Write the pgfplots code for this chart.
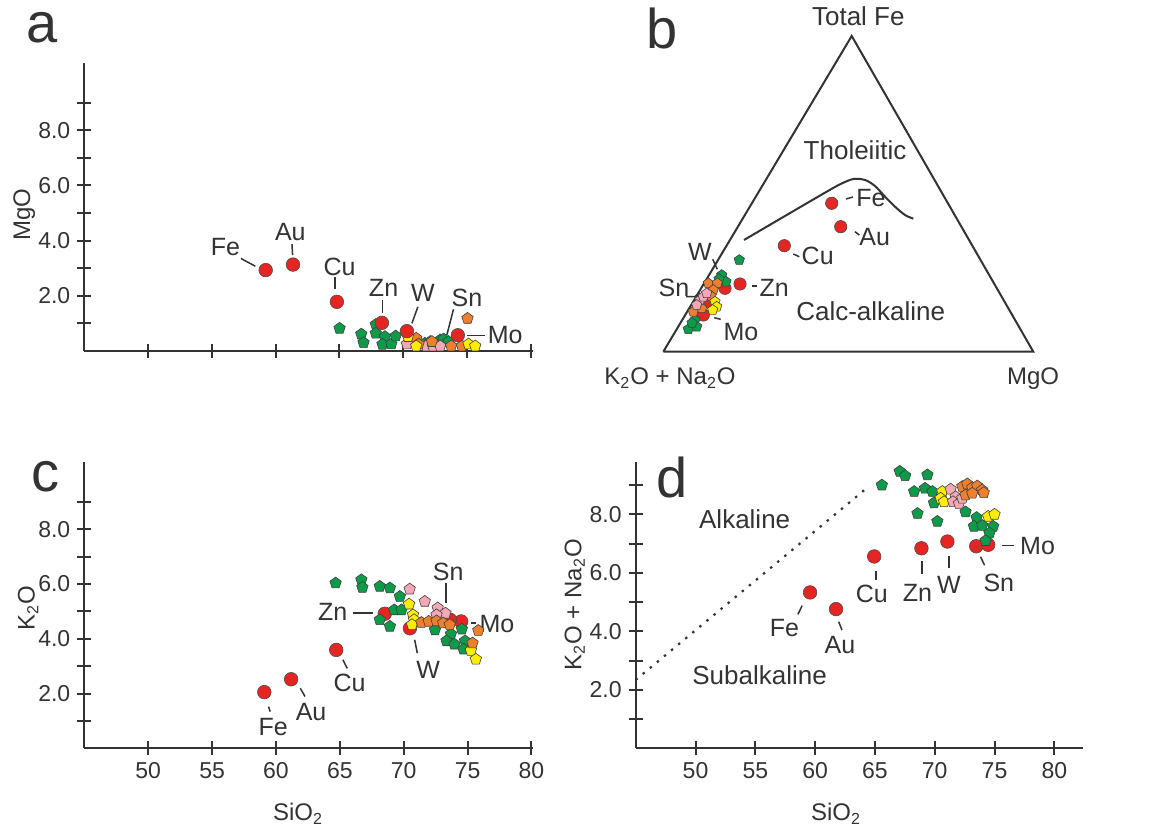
\documentclass[border=0pt]{standalone}
\usepackage{fontspec}
\setmainfont{Liberation Sans}
\usepackage{pgfplots}
\pgfplotsset{compat=1.18}
\usetikzlibrary{plotmarks}

\definecolor{txt}{HTML}{333333}
\definecolor{redc}{HTML}{E52521}
\definecolor{grn}{HTML}{0D9B4A}
\definecolor{org}{HTML}{EE7F2D}
\definecolor{pnk}{HTML}{F2A9B5}
\definecolor{ylw}{HTML}{FFED00}

\tikzset{
  lbl/.style={font=\fontsize{12.5}{14}\selectfont, text=txt},
  reg/.style={font=\fontsize{13}{15}\selectfont, text=txt},
  ttl/.style={font=\fontsize{12}{14}\selectfont, text=txt},
  big/.style={font=\fontsize{28}{30}\selectfont, text=txt},
}
\pgfplotsset{
  geo/.style={
    scale only axis, anchor=south west, clip=false,
    axis x line=bottom, axis y line=left,
    axis line style={-, line width=1pt, color=txt},
    tick align=center, major tick length=7pt,
    tick style={line width=1pt, color=txt},
    xmin=45, ymin=0,
    xtick={50,55,...,80}, xticklabels={50,55,60,65,70,75,80},
    ytick={1,...,9}, yticklabels={,2.0,,4.0,,6.0,,8.0,},
    tick label style={font=\fontsize{11.5}{13}\selectfont, text=txt},
  },
  rdot/.style={only marks, mark=*, mark size=3.4pt, mark options={fill=redc, draw=black!70, line width=0.3pt}},
  gpt/.style={only marks, mark=pentagon*, mark size=3pt, mark options={fill=#1, draw=black!75, line width=0.3pt}},
  lead/.style={txt, line width=0.75pt, forget plot},
}

\begin{document}
\begin{tikzpicture}
\useasboundingbox (0,0) rectangle (578pt,415.5pt);

% ---------- a: MgO vs SiO2
\begin{axis}[geo, at={(42.15pt,240pt)}, width=224.2pt, height=143.85pt,
  xmax=80.15, ymax=10.42, xticklabels={}]
\addplot[gpt=grn] coordinates {(65.01,0.82) (66.71,0.61) (66.89,0.30) (67.85,0.96) (67.85,0.64) (68.56,0.52) (68.37,0.24) (69.07,0.25) (69.41,0.54) (71.7,0.28) (72.12,0.34) (72.9,0.40) (73.16,0.43) (73.55,0.34)};
\addplot[gpt=pnk] coordinates {(70.29,0.25) (71.8,0.18) (72.32,0.18) (72.9,0.18)};
\addplot[gpt=org] coordinates {(75.04,1.18) (71.02,0.46) (71.2,0.25) (73.76,0.18) (74.6,0.18) (72.25,0.34)};
\addplot[gpt=ylw] coordinates {(70.37,0.52) (71.02,0.18) (75.12,0.25) (75.64,0.18)};
\addplot[rdot] coordinates {(59.22,2.93) (61.36,3.13) (64.80,1.78) (68.33,1.02) (70.29,0.72) (74.28,0.57)};
\addplot[lead] coordinates {(57.28,3.35) (58.41,3.07)};
\addplot[lead] coordinates {(61.28,3.87) (61.33,3.47)};
\addplot[lead] coordinates {(64.67,2.69) (64.67,2.23)};
\addplot[lead] coordinates {(68.38,1.84) (68.38,1.39)};
\addplot[lead] coordinates {(71.15,1.60) (70.68,1.00)};
\addplot[lead] coordinates {(73.94,1.51) (73.42,0.58)};
\addplot[lead] coordinates {(74.99,0.57) (76.42,0.57)};
\node[lbl] at (axis cs:56.06,3.77) {Fe};
\node[lbl] at (axis cs:61.15,4.31) {Au};
\node[lbl] at (axis cs:65.01,3.05) {Cu};
\node[lbl] at (axis cs:68.46,2.27) {Zn};
\node[lbl] at (axis cs:71.54,2.12) {W};
\node[lbl] at (axis cs:74.99,1.94) {Sn};
\node[lbl] at (axis cs:77.99,0.58) {Mo};
\node[ttl, rotate=90] at (axis cs:40.3,4.93) {MgO};
\node[big] at (axis cs:41.69,11.7) {a};
\end{axis}

% ---------- b: AFM ternary (drawn in page units)
\begin{axis}[scale only axis, anchor=south west, at={(300pt,215.5pt)},
  width=250pt, height=200pt, xmin=600, xmax=1100, ymin=431, ymax=831,
  axis lines=none, clip=false]
\addplot[txt, line width=1pt] coordinates {(663.3,479.3) (851.7,795) (1033.3,479.3) (663.3,479.3)};
\addplot[txt, line width=1pt, smooth] coordinates {(744,591) (766.7,604.3) (786.7,616) (806.7,627.7) (826.7,639.3) (840,646.7) (853.3,652) (865,651) (875,645) (885,634.3) (895,624.3) (905,616) (913.3,612.3)};
\addplot[rdot, mark size=3.1pt] coordinates {(831.7,627.7) (840.7,604.3) (784.3,585.3) (740,547) (725,542.7) (710,529.3) (703.3,516)};
\addplot[gpt=grn, mark size=2.7pt] coordinates {(739.3,571) (721.7,556) (726,549.3) (719,552) (695,511) (688.3,501.7) (696.7,504.3) (692,508)};
\addplot[gpt=org, mark size=2.7pt] coordinates {(708.3,547.7) (717.3,547.7) (713.3,541) (693.3,519.3) (701.7,522.7) (711,535)};
\addplot[gpt=pnk, mark size=2.7pt] coordinates {(700,531) (703.3,534.3) (696.7,526) (706.7,537.7)};
\addplot[gpt=ylw, mark size=2.7pt] coordinates {(715,529.3) (716.7,524.3) (712.7,521)};
\addplot[lead] coordinates {(846,632) (853,634)};
\addplot[lead] coordinates {(855,599.3) (859.3,596)};
\addplot[lead] coordinates {(793.3,577) (799.3,574.3)};
\addplot[lead] coordinates {(751.7,545) (757.3,545)};
\addplot[lead] coordinates {(714.3,513.3) (720.7,511.7)};
\addplot[lead] coordinates {(712.7,571.7) (717.3,561.7)};
\addplot[lead] coordinates {(686,534.3) (695,534.3) (699.3,538.3)};
\node[lbl] at (axis cs:871,633) {Fe};
\node[lbl] at (axis cs:874.7,593.7) {Au};
\node[lbl] at (axis cs:817.7,575) {Cu};
\node[lbl] at (axis cs:774.3,542.7) {Zn};
\node[lbl] at (axis cs:741,499.3) {Mo};
\node[lbl] at (axis cs:700,578.7) {W};
\node[lbl] at (axis cs:674,542.7) {Sn};
\node[reg] at (axis cs:858.3,814.3) {Total Fe};
\node[reg] at (axis cs:855,681) {Tholeiitic};
\node[reg] at (axis cs:870.7,519.3) {Calc-alkaline};
\node[ttl] at (axis cs:670,452.7) {K\textsubscript{2}O + Na\textsubscript{2}O};
\node[ttl] at (axis cs:1033,452.7) {MgO};
\node[big] at (axis cs:662,803) {b};
\end{axis}

% ---------- c: K2O vs SiO2
\begin{axis}[geo, at={(42.15pt,41.35pt)}, width=224.2pt, height=143.3pt,
  xmax=80.1, ymax=10.46]
\addplot[rdot] coordinates {(59.09,2.05) (61.19,2.52) (64.72,3.59) (68.52,4.91) (70.49,4.38) (74.5,4.63) (73.63,4.69)};
\addplot[gpt=grn] coordinates {(64.67,6.03) (66.69,6.15) (66.77,5.87) (68.13,5.91) (68.92,5.85) (69.7,5.54) (69.26,5.05) (69.83,5.05) (68.13,4.69) (68.92,4.45) (72.45,4.32) (73.7,4.17) (73.35,3.92) (73.97,3.8) (74.55,4.35) (74.8,3.92) (74.68,3.62)};
\addplot[gpt=pnk] coordinates {(70.47,5.81) (71.65,5.36) (72.66,5.12) (73.27,4.93) (72.57,4.87)};
\addplot[gpt=ylw] coordinates {(70.42,5.26) (70.73,4.87) (70.81,4.69) (70.65,4.51) (75.26,3.57) (75.65,3.25)};
\addplot[gpt=org] coordinates {(71.39,4.59) (71.96,4.63) (72.57,4.65) (73.09,4.57) (73.61,4.51) (75.84,4.3) (75.39,3.84)};
\addplot[lead] coordinates {(66.02,4.93) (67.59,4.93)};
\addplot[lead] coordinates {(73.3,6.03) (73.3,5.30)};
\addplot[lead] coordinates {(75.26,4.57) (75.7,4.57)};
\addplot[lead] coordinates {(70.86,3.96) (71.07,3.47)};
\addplot[lead] coordinates {(65.24,3.23) (65.58,2.92)};
\addplot[lead] coordinates {(61.91,2.19) (62.28,1.89)};
\addplot[lead] coordinates {(59.42,1.52) (59.55,1.34)};
\node[lbl] at (axis cs:64.45,4.99) {Zn};
\node[lbl] at (axis cs:73.48,6.43) {Sn};
\node[lbl] at (axis cs:77.3,4.54) {Mo};
\node[lbl] at (axis cs:71.91,2.86) {W};
\node[lbl] at (axis cs:65.76,2.38) {Cu};
\node[lbl] at (axis cs:62.75,1.34) {Au};
\node[lbl] at (axis cs:59.79,0.77) {Fe};
\node[ttl, rotate=90] at (axis cs:40.6,5.12) {K\textsubscript{2}O};
\node[ttl] at (axis cs:61.73,-2.4) {SiO\textsubscript{2}};
\node[big] at (axis cs:42.0,9.9) {c};
\end{axis}

% ---------- d: total alkali vs SiO2
\begin{axis}[geo, at={(317.85pt,41.35pt)}, width=223.65pt, height=143.3pt,
  xmax=82.4, ymax=9.8]
\addplot[txt, line width=1.1pt, dash pattern=on 1.2pt off 3.4pt, forget plot] coordinates {(45.0,2.34) (64.53,8.97)};
\addplot[rdot] coordinates {(59.58,5.33) (61.75,4.76) (64.94,6.56) (68.89,6.84) (71.06,7.07) (73.47,6.91) (74.47,6.96)};
\addplot[gpt=grn] coordinates {(65.58,9.0) (67.08,9.47) (67.53,9.32) (69.39,9.35) (68.28,8.78) (69.19,8.89) (69.81,8.78) (69.94,8.39) (68.56,8.03) (70.22,7.76) (72.58,8.08) (73.5,7.89) (73.28,7.59) (73.97,7.62) (74.89,7.59) (74.58,7.36) (74.25,7.1)};
\addplot[gpt=ylw] coordinates {(70.64,8.78) (70.5,8.55) (70.78,8.43) (74.47,7.93) (75.0,8.0)};
\addplot[gpt=pnk] coordinates {(71.33,8.86) (71.75,8.6) (71.53,8.43) (72.03,8.37) (72.31,8.55)};
\addplot[gpt=org] coordinates {(72.31,8.95) (72.72,9.04) (73.14,8.91) (73.56,8.97) (73.97,8.83) (72.58,8.66) (73.14,8.72) (74.1,8.74)};
\addplot[lead] coordinates {(58.92,4.88) (58.56,4.58)};
\addplot[lead] coordinates {(61.97,4.33) (62.25,4.04)};
\addplot[lead] coordinates {(65.08,6.06) (65.08,5.77)};
\addplot[lead] coordinates {(68.92,6.39) (68.92,5.97)};
\addplot[lead] coordinates {(71.19,6.58) (71.19,6.15)};
\addplot[lead] coordinates {(73.83,6.55) (74.17,6.26)};
\addplot[lead] coordinates {(75.64,6.93) (76.61,6.93)};
\node[lbl] at (axis cs:57.44,4.1) {Fe};
\node[lbl] at (axis cs:62.08,3.52) {Au};
\node[lbl] at (axis cs:64.75,5.29) {Cu};
\node[lbl] at (axis cs:68.56,5.31) {Zn};
\node[lbl] at (axis cs:71.19,5.6) {W};
\node[lbl] at (axis cs:75.36,5.66) {Sn};
\node[lbl] at (axis cs:78.6,6.91) {Mo};
\node[reg] at (axis cs:54.11,7.85) {Alkaline};
\node[reg] at (axis cs:55.36,2.51) {Subalkaline};
\node[ttl, rotate=90] at (axis cs:39.9,4.91) {K\textsubscript{2}O + Na\textsubscript{2}O};
\node[ttl] at (axis cs:61.75,-2.25) {SiO\textsubscript{2}};
\node[big] at (axis cs:48.0,9.25) {d};
\end{axis}
\end{tikzpicture}
\end{document}
